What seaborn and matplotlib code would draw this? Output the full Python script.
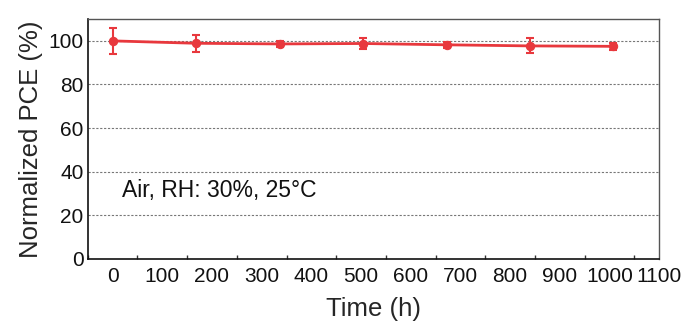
import numpy as np
import pandas as pd
import matplotlib
matplotlib.use("Agg")
import matplotlib.pyplot as plt
from matplotlib.ticker import MultipleLocator
import seaborn as sns

time_h = [0, 168, 336, 504, 672, 840, 1008]
pce = [100.0, 98.9, 98.6, 98.8, 98.2, 97.7, 97.5]
pce_err = [6.0, 4.0, 1.5, 2.5, 1.5, 3.4, 1.5]
x_ticks = [0, 100, 200, 300, 400, 500, 600, 700, 800, 900, 1000, 1100]
y_ticks = [0, 20, 40, 60, 80, 100]

sns.set_theme(style="white")
plt.rcParams['font.family'] = ['Liberation Sans', 'DejaVu Sans']

df = pd.DataFrame({"Time (h)": time_h, "PCE": pce})
color = "#e8383d"

fig = plt.figure(figsize=(6.91, 3.29), dpi=100)
ax = fig.add_axes([0.127, 0.213, 0.827, 0.729])

for yv in y_ticks[1:]:
    ax.axhline(yv, color="#777777", lw=0.8, ls=(0, (2, 1.5)), zorder=0)

sns.lineplot(data=df, x="Time (h)", y="PCE", ax=ax, color=color, lw=2,
             marker="o", markersize=6, markeredgecolor=color, zorder=3)
ax.errorbar(time_h, pce, yerr=pce_err, fmt="none", ecolor=color,
            elinewidth=1.5, capsize=3, capthick=1.5, zorder=3)

ax.set_xlim(-50, 1100)
ax.set_ylim(0, 110)
ax.set_xticks(x_ticks)
ax.set_yticks(y_ticks)
ax.xaxis.set_minor_locator(MultipleLocator(50))
ax.tick_params(axis="x", which="major", direction="in", length=4, width=1,
               labelsize=15, pad=6, color="#333333")
ax.tick_params(axis="x", which="minor", direction="in", length=3, width=1,
               color="#333333", bottom=True)
ax.tick_params(axis="y", which="both", length=0, labelsize=15, pad=3)
for lab in ax.get_xticklabels() + ax.get_yticklabels():
    lab.set_color("#111111")

ax.set_xlabel("Time (h)", fontsize=18.5, labelpad=8)
ax.set_ylabel("Normalized PCE (%)", fontsize=18.5, labelpad=4)

for side in ["left", "bottom"]:
    ax.spines[side].set_color("#111111")
    ax.spines[side].set_linewidth(1.2)
for side in ["top", "right"]:
    ax.spines[side].set_color("#555555")
    ax.spines[side].set_linewidth(1.0)

ax.text(18, 31.5, "Air, RH: 30%, 25°C", fontsize=16.5, va="center", ha="left",
        color="#111111")

fig.savefig("out.png", dpi=100)
